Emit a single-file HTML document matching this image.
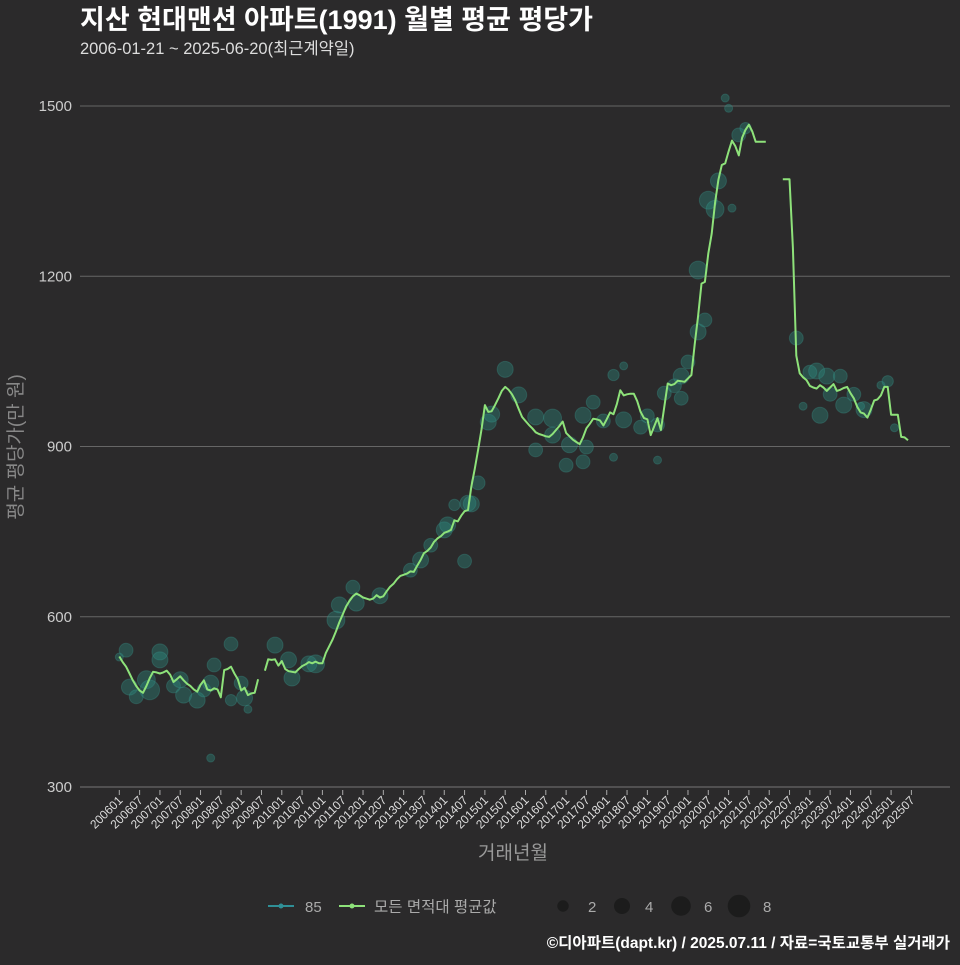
<!DOCTYPE html>
<html><head><meta charset="utf-8"><style>
html,body{margin:0;padding:0;background:#2b2a2b;}
svg text{font-family:"Liberation Sans","Noto Sans CJK KR",sans-serif;}
</style></head><body>
<svg id="chart" width="960" height="960" viewBox="0 0 960 960" xmlns="http://www.w3.org/2000/svg">
<rect width="960" height="960" fill="#2b2a2b"/>
<text x="80" y="29" font-size="27" font-weight="bold" fill="#ffffff">지산 현대맨션 아파트(1991) 월별 평균 평당가</text>
<text x="80" y="54" font-size="16.5" fill="#dddddd">2006-01-21 ~ 2025-06-20(최근계약일)</text>
<g id="grid"></g>
<g id="bubbles"></g>
<g id="line"></g>
<g id="xaxis"></g>
<text x="513" y="859" font-size="19" fill="#999" text-anchor="middle">거래년월</text>
<text transform="translate(22,447) rotate(-90)" font-size="19" fill="#888" text-anchor="middle">평균 평당가(만 원)</text>
<g>
<g><line x1="268" y1="906" x2="294" y2="906" stroke="#2f8f96" stroke-width="2"/><circle cx="281" cy="906" r="2.5" fill="#2f8f96"/><text x="305" y="912" font-size="15" fill="#aaa">85</text></g>
<g><line x1="339" y1="906" x2="365" y2="906" stroke="#8ee27a" stroke-width="2"/><circle cx="352" cy="906" r="2.5" fill="#8ee27a"/><text x="374" y="912" font-size="15.5" fill="#aaa">모든 면적대 평균값</text></g>
<g><circle cx="563" cy="906" r="5.7" fill="#1c1c1c"/><text x="588" y="912" font-size="15" fill="#aaa">2</text></g>
<g><circle cx="622" cy="906" r="8" fill="#1c1c1c"/><text x="645" y="912" font-size="15" fill="#aaa">4</text></g>
<g><circle cx="681" cy="906" r="9.8" fill="#1c1c1c"/><text x="704" y="912" font-size="15" fill="#aaa">6</text></g>
<g><circle cx="739" cy="906" r="11.3" fill="#1c1c1c"/><text x="763" y="912" font-size="15" fill="#aaa">8</text></g>
</g>
<text x="950" y="948" font-size="15.5" font-weight="bold" fill="#ffffff" text-anchor="end">©디아파트(dapt.kr) / 2025.07.11 / 자료=국토교통부 실거래가</text>
</svg>
<script>
const yTicks=[300,600,900,1200,1500];
const startYear=2006;
const avgValues=[
530,520,512,500,488,478,470,466,478,492,503,502,
500,502,505,498,485,490,495,488,482,478,472,468,
480,488,472,470,474,472,458,506,508,512,500,490,
470,475,462,465,466,490,null,505,525,524,525,514,
522,508,504,503,502,508,513,516,520,518,521,518,
518,536,548,560,574,590,604,618,628,636,641,638,
634,632,630,632,638,634,636,645,653,658,666,672,
674,676,680,679,690,700,712,716,722,732,738,742,
748,750,753,770,768,778,786,788,829,860,894,930,
973,961,962,973,985,998,1005,1000,992,981,966,952,
945,938,932,925,922,920,918,917,922,929,936,944,
924,918,912,908,904,916,932,940,949,948,946,937,
948,960,957,975,999,990,992,993,993,980,961,950,
948,920,935,950,929,970,1011,1008,1010,1016,1015,1014,
1020,1026,1080,1130,1187,1190,1240,1275,1330,1370,1396,1399,
1420,1439,1429,1413,1444,1458,1467,1455,1437,1437,1437,1437,
null,null,null,null,1371,1371,1371,1250,1060,1029,1022,1017,
1007,1004,1002,1008,1004,998,1004,1010,998,1000,1003,1005,
994,985,970,960,958,951,965,981,983,990,1005,1005,
956,956,956,917,916,911];
const sMonth=[0,2,3,8,9,5,12,12,16,18,19,23,25,27,28,33,33,27,36,37,38,46,50,51,56,58,64,65,69,70,77,86,89,92,96,97,99,103,104,102,106,109,110,114,118,123,123,128,128,133,132,137,137,138,140,146,143,149,154,156,159,161,164,166,166,168,171,171,173,174,176,181,177,183,179,180,185,200,204,206,209,210,213,214,217,207,202,219,225,227,220,229,146,159,149];
const sValue=[529,541,476,489,471,459,538,524,478,489,462,453,471,483,515,552,453,351,483,457,437,550,524,492,517,517,594,621,652,624,637,682,700,726,753,762,797,800,799,698,836,943,957,1036,991,952,894,950,920,903,867,873,955,899,978,1026,945,947,934,954,938,994,1007,1024,985,1049,1102,1211,1123,1334,1318,1320,1368,1449,1514,1496,1461,1091,1031,1033,1024,992,1024,973,992,955,971,971,1008,1015,965,933,881,876,1042];
const sCount=[1,3,4,5,6,3,4,4,3,4,4,4,3,4,3,3,2,1,3,4,1,4,4,4,4,5,5,4,3,4,4,3,4,3,4,4,2,4,4,3,3,4,4,4,4,4,3,5,4,4,3,3,4,3,3,2,3,4,3,3,3,3,3,4,3,3,4,5,3,5,5,1,4,3,1,1,2,3,3,4,4,3,3,4,3,4,1,1,1,2,4,1,1,1,1];

const NS='http://www.w3.org/2000/svg';
const X0=80,X1=950,Y300=787,Y1500=106;
const x=i=>119.3+i*3.385;
const y=v=>Y300-(v-300)*(Y300-Y1500)/1200;
function mk(tag,attrs,parent){const e=document.createElementNS(NS,tag);for(const k in attrs)e.setAttribute(k,attrs[k]);parent.appendChild(e);return e;}
const grid=document.getElementById('grid');
yTicks.forEach(t=>{
  const l=mk('line',{x1:X0,x2:X1,y1:y(t),y2:y(t),stroke:t===300?'#777':'#666','stroke-width':1},grid);
  
  
  const tx=mk('text',{x:72,y:y(t)+5,'font-size':15,fill:'#cccccc','text-anchor':'end'},grid);
  tx.textContent=t;
  
  
});
const xa=document.getElementById('xaxis');
for(let i=0;i<avgValues.length+2;i+=6){
  const yr=startYear+Math.floor(i/12),mo=i%12+1;
  const lab=yr+''+(mo<10?'0':'')+mo;
  const tk=mk('line',{x1:x(i),x2:x(i),y1:790,y2:795,stroke:'#aaa'},xa);
  
  
  const t=mk('text',{transform:`translate(${x(i)+4},${801}) rotate(-45)`,'font-size':12,fill:'#dddddd','text-anchor':'end'},xa);
  t.textContent=lab;
  
  
}
const bg=document.getElementById('bubbles');
sMonth.forEach((m,k)=>{
  const c=mk('circle',{cx:x(m),cy:y(sValue[k]),r:4*Math.sqrt(sCount[k]),fill:'rgba(45,140,130,0.38)',stroke:'rgba(60,155,145,0.3)','stroke-width':1},bg);
  
  
});
const lg=document.getElementById('line');
let d='',pen=false;
avgValues.forEach((v,i)=>{
  if(v===null){pen=false;return;}
  d+=(pen?'L':'M')+x(i).toFixed(1)+','+y(v).toFixed(1);pen=true;
});
const p=mk('path',{d:d,fill:'none',stroke:'#8ee27a','stroke-width':2,'stroke-linejoin':'round'},lg);


</script>
</body></html>
